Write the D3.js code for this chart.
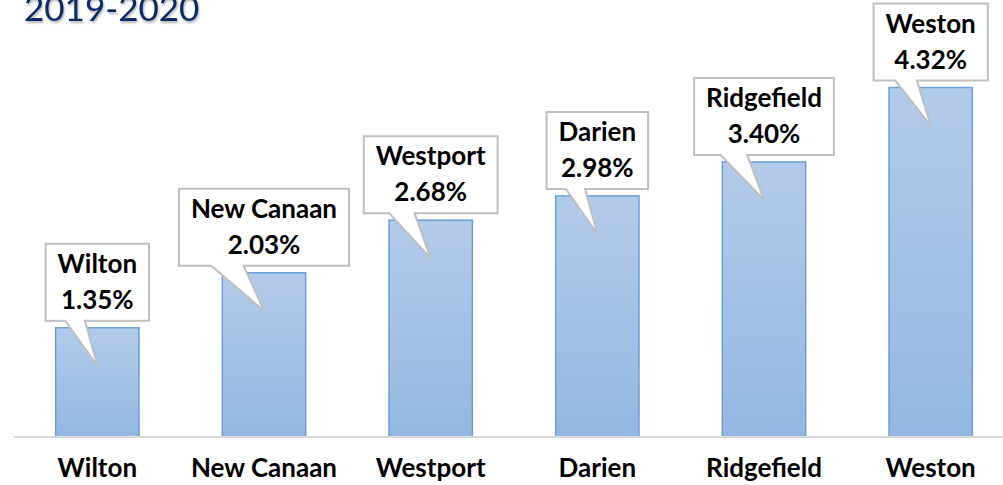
<!DOCTYPE html>
<html>
<head>
<meta charset="utf-8">
<script src="https://cdn.jsdelivr.net/npm/d3@7"></script>
<style>
  body { margin: 0; background: #fff; }
  svg { display: block; font-family: Lato, "Open Sans", sans-serif; }
</style>
</head>
<body>
<svg id="chart" width="1003" height="485"></svg>
<script>
// Data
const towns = ["Wilton", "New Canaan", "Westport", "Darien", "Ridgefield", "Weston"];
const rates = [1.35, 2.03, 2.68, 2.98, 3.40, 4.32];
const title = "2019-2020";

const width = 1003, height = 485;
const baseY = 437;
const fs = 26;

const svg = d3.select("#chart");

// gradient for bars
const defs = svg.append("defs");
const grad = defs.append("linearGradient")
  .attr("id", "barGrad")
  .attr("x1", 0).attr("y1", 0).attr("x2", 0).attr("y2", 1);
grad.append("stop").attr("offset", "0%").attr("stop-color", "#b3cbea");
grad.append("stop").attr("offset", "100%").attr("stop-color", "#93b7e2");

const shadow = defs.append("filter").attr("id", "tshadow")
  .attr("x", "-10%").attr("y", "-20%").attr("width", "130%").attr("height", "160%");
shadow.append("feDropShadow")
  .attr("dx", 1).attr("dy", 2).attr("stdDeviation", 1.2)
  .attr("flood-color", "#000").attr("flood-opacity", 0.3);

const x = d3.scaleBand()
  .domain(towns)
  .range([14, 1014])
  .paddingInner(0.5)
  .paddingOuter(0.25);

const y = d3.scaleLinear()
  .domain([0, 5])
  .range([baseY, baseY - 5 * 80.9]);

// title (partly cut at top, like the original slide)
svg.append("text")
  .attr("x", 24)
  .attr("y", 21)
  .attr("fill", "#112c68")
  .attr("font-size", 35)
  .attr("filter", "url(#tshadow)")
  .text(title);

// bars
svg.append("g")
  .selectAll("rect")
  .data(towns)
  .join("rect")
  .attr("x", d => x(d))
  .attr("y", (d, i) => y(rates[i]))
  .attr("width", x.bandwidth())
  .attr("height", (d, i) => baseY - y(rates[i]))
  .attr("fill", "url(#barGrad)")
  .attr("stroke", "#6a9fd8")
  .attr("stroke-width", 1.5);

// axis line
svg.append("line")
  .attr("x1", 14).attr("x2", width)
  .attr("y1", baseY).attr("y2", baseY)
  .attr("stroke", "#d9d9d9")
  .attr("stroke-width", 2);

// category labels
svg.append("g")
  .selectAll("text")
  .data(towns)
  .join("text")
  .attr("x", d => x(d) + x.bandwidth() / 2)
  .attr("y", 477)
  .attr("text-anchor", "middle")
  .attr("font-size", fs)
  .attr("font-weight", "bold")
  .attr("fill", "#000")
  .text(d => d);

// callouts
const callouts = svg.append("g");
towns.forEach((t, i) => {
  const cx = x(t) + x.bandwidth() / 2;
  const top = y(rates[i]);
  const g = callouts.append("g");
  const t1 = g.append("text")
    .attr("x", cx).attr("y", top - 55)
    .attr("text-anchor", "middle")
    .attr("font-size", fs).attr("font-weight", "bold")
    .text(t);
  const t2 = g.append("text")
    .attr("x", cx).attr("y", top - 19)
    .attr("text-anchor", "middle")
    .attr("font-size", fs).attr("font-weight", "bold")
    .text(rates[i].toFixed(2) + "%");
  const tw = Math.max(t1.node().getComputedTextLength(), t2.node().getComputedTextLength());
  const w = tw + 24;
  const bx0 = cx - w / 2, bx1 = cx + w / 2;
  const by0 = top - 84, by1 = top - 7;
  const p0 = cx - 0.31 * w, p1 = cx - 0.12 * w;
  const tipY = top + 38;
  const path = d3.path();
  path.moveTo(bx0, by0);
  path.lineTo(bx1, by0);
  path.lineTo(bx1, by1);
  path.lineTo(p1, by1);
  path.lineTo(cx, tipY);
  path.lineTo(p0, by1);
  path.lineTo(bx0, by1);
  path.closePath();
  g.insert("path", "text")
    .attr("d", path.toString())
    .attr("fill", "#fff")
    .attr("stroke", "#bfbfbf")
    .attr("stroke-width", 2)
    .attr("stroke-linejoin", "miter");
});
</script>
</body>
</html>
